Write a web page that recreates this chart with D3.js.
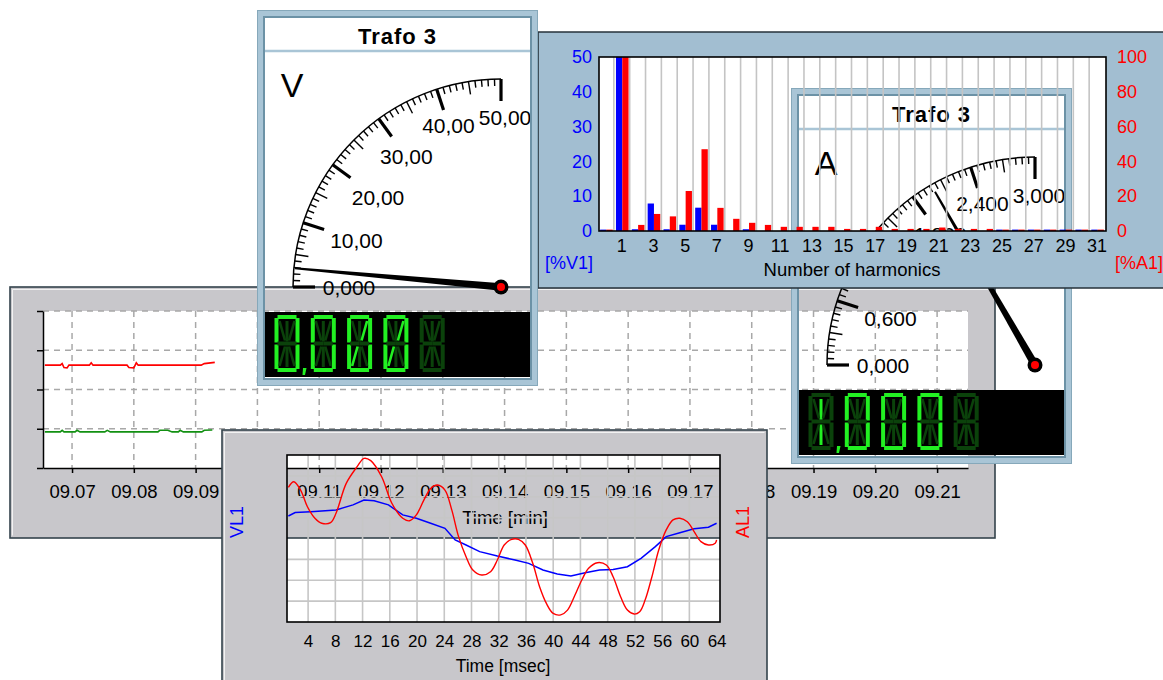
<!DOCTYPE html>
<html><head><meta charset="utf-8">
<script src="https://cdn.jsdelivr.net/npm/d3@7"></script>
<style>
html,body{margin:0;padding:0;background:#fff;}
svg{display:block;font-family:"Liberation Sans",Arial,sans-serif;}
</style></head><body>
<svg id="c" width="1163" height="680"></svg>
<script>
// ================= DATA =================
// Background trend chart (minutes after 09:00)
const trendTicks = [7,8,9,10,11,12,13,14,15,16,17,18,19,20,21];
const trendLabels = ["09.07","09.08","09.09","09.10","09.11","09.12","09.13","09.14","09.15","09.16","09.17","09.18","09.19","09.20","09.21"];
const trendYTicks = [0,1,2,3,4];
const redTrendT = [6.56,6.81,6.84,6.87,6.92,6.95,7.28,7.31,7.34,7.89,7.92,8.00,8.04,8.07,9.09,9.14,9.31];
const redTrendV = [2.62,2.62,2.66,2.56,2.55,2.62,2.62,2.68,2.62,2.62,2.56,2.55,2.68,2.62,2.62,2.66,2.69];
const greenTrendT = [6.56,6.81,6.84,6.87,7.05,7.08,7.13,7.53,7.57,7.62,8.39,8.42,8.55,8.62,8.72,8.75,8.80,9.10,9.14,9.27];
const greenTrendV = [0.92,0.92,0.96,0.92,0.92,0.96,0.92,0.92,0.96,0.92,0.92,0.96,0.96,0.92,0.92,0.96,0.92,0.92,0.96,0.97];

// Harmonics chart
const harmonics = [0,1,2,3,4,5,6,7,8,9,10,11,12,13,14,15,16,17,18,19,20,21,22,23,24,25,26,27,28,29,30,31];
const harmLabels = [1,3,5,7,9,11,13,15,17,19,21,23,25,27,29,31];
const harmV1 = [0.4,100,0.5,7.9,0.5,1.8,6.7,1.8,0,0.5,0,0,0,0,0,0,0,0,0,0,0,0,0,0,0,0.4,0.4,0.4,0.4,0.4,0.4,0.4];
const harmA1 = [0.8,100,3.5,9.8,8.4,23,47,13.3,7,4.7,3.5,2.4,2.4,2.4,2.4,1.2,1.2,2.4,1.2,1.2,1.2,2,1.2,1.2,1.2,0.8,0.8,0.8,0.8,0.8,0.8,0.8];
const harmLeftTicks = [0,10,20,30,40,50];
const harmRightTicks = [0,20,40,60,80,100];

// Gauges
const gaugeVValues = [0,10,20,30,40,50];
const gaugeVLabels = ["0,000","10,00","20,00","30,00","40,00","50,00"];
const gaugeVNeedle = 2.9;
const lcdV = ["0","0","0/","0/"," "];
const gaugeAValues = [0,0.6,1.2,1.8,2.4,3.0];
const gaugeALabels = ["0,000","0,600","1,200","1,800","2,400","3,000"];
const gaugeANeedle = 2.0;
const lcdA = ["1","0","0","0"," "];

// Waveform chart (msec)
const msTicks = [4,8,12,16,20,24,28,32,36,40,44,48,52,56,60,64];
const VL1_t = [1.1,2.1,4.4,8.1,10.6,12.2,13.7,15.8,17.9,19.9,22.0,24.1,25.6,27.2,29.2,31.8,34.4,36.4,38.5,40.6,42.6,44.7,46.8,48.8,50.9,52.9,55.0,56.6,58.6,60.7,62.8,64.0];
const VL1 = [108,124,128,137,161,184,181,161,113,97,73,49,-7,-31,-63,-84,-103,-119,-151,-170,-180,-164,-151,-148,-135,-95,-39,9,28,47,54,73];
const AL1_t = [1.1,1.9,2.9,3.9,5.0,6.0,7.3,8.1,9.6,11.2,12.2,13.2,14.8,16.3,17.9,18.9,19.9,21.0,22.0,23.0,24.1,25.1,26.1,27.2,28.2,29.5,30.8,31.8,32.8,33.9,34.9,35.9,37.0,38.0,39.0,40.0,41.1,42.1,43.2,44.2,45.2,46.5,47.8,48.8,49.9,50.9,51.9,52.7,53.5,54.5,55.5,56.6,57.6,58.6,59.7,60.7,61.7,62.8,63.8,64.0];
const AL1 = [24.5,27.2,23.2,15.2,9.7,7.3,7.6,12.1,26.4,34.4,38.4,37.3,29.6,16.9,9.7,8.5,11.3,18.4,24.0,25.6,23.2,13.7,0.9,-8.7,-15.1,-17.5,-15.9,-10.3,-3.1,-0.4,-0.4,-3.1,-11.9,-23.1,-31.1,-35.9,-36.6,-34.3,-27.1,-19.9,-14.3,-11.6,-12.7,-18.3,-27.9,-34.3,-36.2,-35.1,-29.5,-18.3,-5.5,4.1,8.9,9.7,8.0,3.3,-1.5,-3.1,-2.3,-0.7];

// ================= STYLE =================
const PANEL_GRAY = "#c8c7cb";
const FRAME_BLUE = "#a9c5d6";
const FRAME_DARK = "#6c92a6";
const HARM_BLUE = "#a2bed1";
const LIT = "#22f022", DIM = "#0b420b";
const FONT = "Liberation Sans";

const svg = d3.select("#c");
const defs = svg.append("defs");

function styleAxis(sel, size, color) {
  sel.selectAll("text").attr("font-size", size).attr("font-family", FONT).attr("fill", color || "#000");
  sel.selectAll("line,path").attr("stroke", "#000").attr("stroke-width", 1.5);
}

// ================= 1. TREND CHART (background) =================
const TG = svg.append("g");
TG.append("rect").attr("x",10).attr("y",287).attr("width",985).attr("height",251)
  .attr("fill",PANEL_GRAY).attr("stroke","#34434c").attr("stroke-width",1.6);
TG.append("path").attr("d","M12.5,535.5V289.5H992.5").attr("fill","none").attr("stroke","#f2f2f2");
const tx = d3.scaleLinear().domain([6.53,21.5]).range([43,968]);
const ty = d3.scaleLinear().domain([0,4]).range([468,311]);
TG.append("rect").attr("x",43).attr("y",311).attr("width",925).attr("height",157).attr("fill","#fff");
TG.selectAll("line.hg").data(trendYTicks.filter(d=>d>0)).join("line").attr("class","hg")
  .attr("x1",43).attr("x2",968).attr("y1",d=>ty(d)).attr("y2",d=>ty(d))
  .attr("stroke","#a8a8a8").attr("stroke-width",1.5).attr("stroke-dasharray","6,5");
TG.selectAll("line.vg").data(trendTicks).join("line").attr("class","vg")
  .attr("x1",d=>tx(d)).attr("x2",d=>tx(d)).attr("y1",311).attr("y2",468)
  .attr("stroke","#a8a8a8").attr("stroke-width",1.5).attr("stroke-dasharray","6,5");
const tline = d3.line().x(d=>tx(d[0])).y(d=>ty(d[1]));
TG.append("path").datum(d3.zip(redTrendT, redTrendV)).attr("d",tline)
  .attr("fill","none").attr("stroke","#ff0000").attr("stroke-width",1.6);
TG.append("path").datum(d3.zip(greenTrendT, greenTrendV)).attr("d",tline)
  .attr("fill","none").attr("stroke","#129012").attr("stroke-width",1.6);
const txa = TG.append("g").attr("transform","translate(0,468)")
  .call(d3.axisBottom(tx).tickValues(trendTicks).tickFormat((d,i)=>trendLabels[i]).tickSize(5).tickSizeOuter(0).tickPadding(12));
styleAxis(txa, 18.5);
const tya = TG.append("g").attr("transform","translate(43,0)")
  .call(d3.axisLeft(ty).tickValues(trendYTicks).tickFormat("").tickSize(6).tickSizeOuter(0));
styleAxis(tya, 18.5);
TG.append("text").attr("x",505).attr("y",524).attr("text-anchor","middle")
  .attr("font-size",18.5).text("Time [min]");

// ================= GAUGE FUNCTION =================
const SEG = {"0":"abcdef","0/":"abcdefjk","1":"il"," ":""};
function drawLCD(g, x0, y0, chars) {
  const pitch = 36.3, w = 25, h = 57, t = 4, hh = h/2;
  chars.forEach((ch, idx) => {
    const x = x0 + idx*pitch, y = y0;
    const lit = new Set((SEG[ch]||"").split(""));
    const rects = {
      a:[x+3,y,w-6,t], d:[x+3,y+h-t,w-6,t],
      f:[x,y+3,t,hh-4], b:[x+w-t,y+3,t,hh-4],
      e:[x,y+hh+1,t,hh-4], c:[x+w-t,y+hh+1,t,hh-4],
      g:[x+3,y+hh-t/2,w/2-3,t], n:[x+w/2,y+hh-t/2,w/2-3,t],
      i:[x+w/2-1.5,y+t+2,3,hh-t-4], l:[x+w/2-1.5,y+hh+3,3,hh-t-4]
    };
    const diags = {
      h:[x+t+1,y+t+2,x+w/2-2,y+hh-3], j:[x+w-t-1,y+t+2,x+w/2+2,y+hh-3],
      k:[x+t+1,y+h-t-2,x+w/2-2,y+hh+3], m:[x+w-t-1,y+h-t-2,x+w/2+2,y+hh+3]
    };
    for (const [k, r] of Object.entries(rects)) {
      g.append("rect").attr("x",r[0]).attr("y",r[1]).attr("width",r[2]).attr("height",r[3])
        .attr("fill", lit.has(k)?LIT:DIM);
    }
    for (const [k, r] of Object.entries(diags)) {
      g.append("line").attr("x1",r[0]).attr("y1",r[1]).attr("x2",r[2]).attr("y2",r[3])
        .attr("stroke", lit.has(k)?LIT:DIM).attr("stroke-width",2.6);
    }
  });
  // comma after first character
  const cx = x0 + 25 + 3.5, cy = y0 + 53;
  g.append("path").attr("d",`M${cx},${cy}h3.5l-1.5,7h-2.5z`).attr("fill",LIT);
}

function drawGauge(gx, gy, opt) {
  const W = 281, H = 376, B = 8;
  const g = svg.append("g").attr("transform",`translate(${gx},${gy})`);
  g.append("rect").attr("x",B).attr("y",B).attr("width",W-2*B).attr("height",32).attr("fill","#fff");
  g.append("line").attr("x1",B).attr("x2",W-B).attr("y1",41).attr("y2",41).attr("stroke",FRAME_BLUE).attr("stroke-width",2.5);
  g.append("text").attr("x",W/2).attr("y",34).attr("text-anchor","middle")
    .attr("font-weight","bold").attr("font-size",22).attr("letter-spacing",1).text(opt.title);
  g.append("text").attr("x",35).attr("y",87).attr("text-anchor","middle").attr("font-size",34).text(opt.unit);
  const cx = 244, cy = 277, R = 208;
  const ang = d3.scaleLinear().domain([0,opt.max]).range([Math.PI, Math.PI/2]);
  const pt = (r,v) => [cx + r*Math.cos(ang(v)), cy - r*Math.sin(ang(v))];
  const p = d3.path(); p.arc(cx,cy,R,Math.PI,1.5*Math.PI,false);
  g.append("path").attr("d",p.toString()).attr("fill","none").attr("stroke","#000").attr("stroke-width",1.5);
  const tickVals = d3.range(0,51).map(i => i*opt.max/50);
  tickVals.forEach((v,i) => {
    const major = i%10===0, mid = i%5===0;
    const len = major ? 22 : mid ? 13 : 7;
    const a = pt(R,v), b = pt(R-len,v);
    g.append("line").attr("x1",a[0]).attr("y1",a[1]).attr("x2",b[0]).attr("y2",b[1])
      .attr("stroke","#000").attr("stroke-width", major?3.2:1.4);
  });
  opt.values.forEach((v,i) => {
    const f = v/opt.max;
    const r = 152 + Math.min(18, Math.max(0,(f-0.4)*45));
    const q = pt(r,v);
    g.append("text").attr("x",q[0]+ (f>0.9?4:0)).attr("y",q[1]).attr("text-anchor","middle")
      .attr("dominant-baseline","central").attr("font-size",21).text(opt.labels[i]);
  });
  // needle
  const th = ang(opt.needle);
  const ux = Math.cos(th), uy = -Math.sin(th), nx = -uy, ny = ux;
  const tipR = opt.tipR;
  const pts = [[cx+nx*3.8, cy+ny*3.8],[cx+ux*tipR+nx*1, cy+uy*tipR+ny*1],[cx+ux*tipR-nx*1, cy+uy*tipR-ny*1],[cx-nx*3.8, cy-ny*3.8]];
  g.append("path").attr("d","M"+pts.map(d=>d.join(",")).join("L")+"Z").attr("fill","#000");
  g.append("circle").attr("cx",cx).attr("cy",cy).attr("r",7.5).attr("fill","#000");
  g.append("circle").attr("cx",cx).attr("cy",cy).attr("r",4).attr("fill","#ff0000");
  // LCD
  g.append("rect").attr("x",B).attr("y",302).attr("width",W-2*B).attr("height",65).attr("fill","#000");
  drawLCD(g, B+9.5, 305, opt.lcd);
  // frame
  g.append("path").attr("d",`M0,0H${W}V${H}H0Z M${B},${B}V${H-B}H${W-B}V${B}Z`)
    .attr("fill",FRAME_BLUE).attr("fill-rule","evenodd");
  g.append("rect").attr("x",0.5).attr("y",0.5).attr("width",W-1).attr("height",H-1)
    .attr("fill","none").attr("stroke","#86a8ba").attr("stroke-width",1);
  g.append("rect").attr("x",B-1).attr("y",B-1).attr("width",W-2*B+2).attr("height",H-2*B+2)
    .attr("fill","none").attr("stroke",FRAME_DARK).attr("stroke-width",2);
}

// ================= 2. GAUGE A (behind harmonics) =================
drawGauge(791, 88, {title:"Trafo 3", unit:"A", max:3, values:gaugeAValues, labels:gaugeALabels,
  needle:gaugeANeedle, tipR:200, lcd:lcdA});

// ================= 3. HARMONICS WINDOW =================
const HG = svg.append("g");
const PL = 599, PR = 1106, PT = 57, PB = 231;
HG.append("path").attr("d",`M538,32H1175V288H538Z M${PL},${PT}V${PB}H${PR}V${PT}Z`)
  .attr("fill",HARM_BLUE).attr("fill-rule","evenodd");
HG.append("path").attr("d","M1175,32H538V288H1175").attr("fill","none").attr("stroke","#26323a").attr("stroke-width",1.6);
const hx = d3.scaleBand().domain(harmonics).range([598,1105]);
const yL = d3.scaleLinear().domain([0,50]).range([PB,PT]);
const yR = d3.scaleLinear().domain([0,100]).range([PB,PT]);
HG.selectAll("line.hgrid").data(harmonics.slice(1)).join("line").attr("class","hgrid")
  .attr("x1",d=>hx(d)).attr("x2",d=>hx(d)).attr("y1",PT).attr("y2",PB)
  .attr("stroke","#c4c4c4").attr("stroke-width",1.6);
defs.append("clipPath").attr("id","hclip").append("rect").attr("x",PL).attr("y",PT).attr("width",PR-PL).attr("height",PB-PT);
const bars = HG.append("g").attr("clip-path","url(#hclip)");
const bw = 6.3;
bars.selectAll("rect.bv").data(harmonics.filter(h=>harmV1[h]>0)).join("rect").attr("class","bv")
  .attr("x",h=>hx(h)+hx.bandwidth()/2+0.5-bw).attr("width",bw)
  .attr("y",h=>yL(harmV1[h])).attr("height",h=>PB-yL(harmV1[h])).attr("fill","#0000ff");
bars.selectAll("rect.br").data(harmonics.filter(h=>harmA1[h]>0)).join("rect").attr("class","br")
  .attr("x",h=>hx(h)+hx.bandwidth()/2+0.5).attr("width",bw)
  .attr("y",h=>yR(harmA1[h])).attr("height",h=>PB-yR(harmA1[h])).attr("fill","#ff0000");
HG.append("rect").attr("x",PL).attr("y",PT).attr("width",PR-PL).attr("height",PB-PT)
  .attr("fill","none").attr("stroke","#000").attr("stroke-width",1.6);
const hxa = HG.append("g").attr("transform",`translate(0,${PB})`)
  .call(d3.axisBottom(hx).tickValues(harmLabels).tickSize(0).tickPadding(8));
hxa.select(".domain").remove();
styleAxis(hxa, 18);
const hla = HG.append("g").attr("transform",`translate(${PL},0)`)
  .call(d3.axisLeft(yL).tickValues(harmLeftTicks).tickSize(0).tickPadding(7));
hla.select(".domain").remove();
styleAxis(hla, 18, "#0000ff");
const hra = HG.append("g").attr("transform",`translate(${PR},0)`)
  .call(d3.axisRight(yR).tickValues(harmRightTicks).tickSize(0).tickPadding(11));
hra.select(".domain").remove();
styleAxis(hra, 18, "#ff0000");
HG.append("text").attr("x",569).attr("y",269).attr("text-anchor","middle").attr("font-size",18).attr("fill","#0000ff").text("[%V1]");
HG.append("text").attr("x",1139).attr("y",269).attr("text-anchor","middle").attr("font-size",18).attr("fill","#ff0000").text("[%A1]");
HG.append("text").attr("x",852).attr("y",276).attr("text-anchor","middle").attr("font-size",18.5).text("Number of harmonics");

// ================= 4. GAUGE V =================
drawGauge(257, 10, {title:"Trafo 3", unit:"V", max:50, values:gaugeVValues, labels:gaugeVLabels,
  needle:gaugeVNeedle, tipR:207, lcd:lcdV});

// ================= 5. WAVEFORM WINDOW =================
const WG = svg.append("g");
const WL = 287, WR = 720, WT = 455, WB = 622;
WG.append("path").attr("d",`M222,430H767V690H222Z M${WL},${WT}V${WB}H${WR}V${WT}Z`)
  .attr("fill",PANEL_GRAY).attr("fill-rule","evenodd");
WG.append("rect").attr("x",222).attr("y",430).attr("width",545).attr("height",260)
  .attr("fill","none").attr("stroke","#34434c").attr("stroke-width",1.6);
WG.append("path").attr("d","M224.5,690V432.5H764.5").attr("fill","none").attr("stroke","#f2f2f2");
const bx = d3.scaleLinear().domain([0.9,64.5]).range([WL,WR]);
const by = d3.scaleLinear().domain([-4,4]).range([WB,WT]);
const byV = d3.scaleLinear().domain([-400,400]).range([WB,WT]);
const byA = d3.scaleLinear().domain([-40,40]).range([WB,WT]);
WG.selectAll("line.wv").data(msTicks.slice(0,-1)).join("line").attr("class","wv")
  .attr("x1",d=>bx(d)).attr("x2",d=>bx(d)).attr("y1",WT).attr("y2",WB)
  .attr("stroke","#c6c6c6").attr("stroke-width",1.6);
WG.selectAll("line.wh").data([-3,-2,-1,1,2,3]).join("line").attr("class","wh")
  .attr("x1",WL).attr("x2",WR).attr("y1",d=>by(d)).attr("y2",d=>by(d))
  .attr("stroke","#c6c6c6").attr("stroke-width",1.6);
defs.append("clipPath").attr("id","wclip").append("rect").attr("x",WL).attr("y",WT).attr("width",WR-WL).attr("height",WB-WT);
const wl = WG.append("g").attr("clip-path","url(#wclip)");
wl.append("path").datum(d3.zip(VL1_t, VL1))
  .attr("d", d3.line().x(d=>bx(d[0])).y(d=>byV(d[1])))
  .attr("fill","none").attr("stroke","#0000ff").attr("stroke-width",1.5);
wl.append("path").datum(d3.zip(AL1_t, AL1))
  .attr("d", d3.line().curve(d3.curveCatmullRom.alpha(0.5)).x(d=>bx(d[0])).y(d=>byA(d[1])))
  .attr("fill","none").attr("stroke","#ff0000").attr("stroke-width",1.4);
WG.append("rect").attr("x",WL).attr("y",WT).attr("width",WR-WL).attr("height",WB-WT)
  .attr("fill","none").attr("stroke","#000").attr("stroke-width",1.6);
const wxa = WG.append("g").attr("transform",`translate(0,${WB})`)
  .call(d3.axisBottom(bx).tickValues(msTicks).tickSize(0).tickPadding(13));
wxa.select(".domain").remove();
styleAxis(wxa, 17);
WG.append("text").attr("x",503).attr("y",672).attr("text-anchor","middle").attr("font-size",17.5).text("Time [msec]");
WG.append("text").attr("transform","translate(243,522) rotate(-90)").attr("text-anchor","middle")
  .attr("font-size",18).attr("fill","#0000ff").text("VL1");
WG.append("text").attr("transform","translate(749,522) rotate(-90)").attr("text-anchor","middle")
  .attr("font-size",18).attr("fill","#ff0000").text("AL1");
</script>
</body></html>
